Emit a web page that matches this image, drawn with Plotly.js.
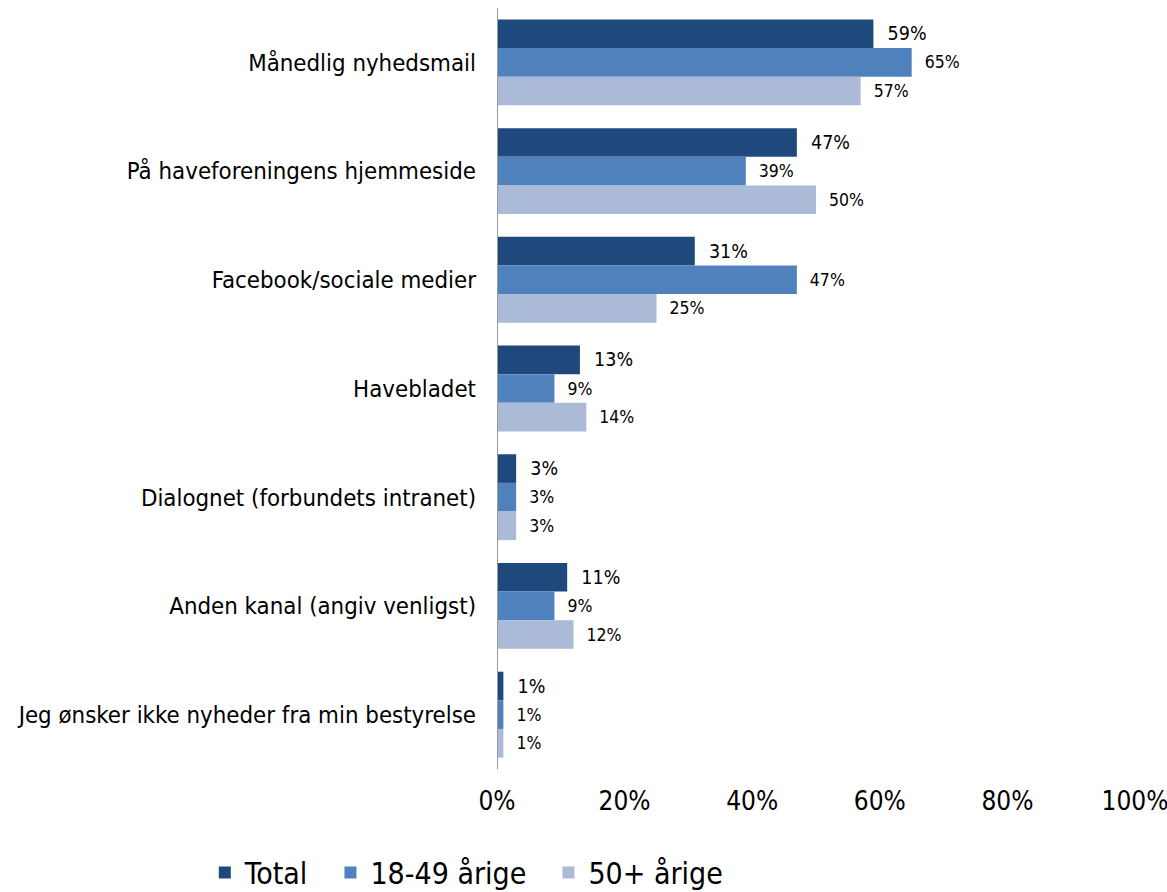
<!DOCTYPE html>
<html>
<head>
<meta charset="utf-8">
<script src="https://cdn.plot.ly/plotly-3.0.1.min.js"></script>
<style>html,body{margin:0;padding:0;background:#fff;}#chart{width:1167px;height:892px;}</style>
</head>
<body>
<div id="chart"></div>
<script>
const categories = [
  "Månedlig nyhedsmail",
  "På haveforeningens hjemmeside",
  "Facebook/sociale medier",
  "Havebladet",
  "Dialognet (forbundets intranet)",
  "Anden kanal (angiv venligst)",
  "Jeg ønsker ikke nyheder fra min bestyrelse"
];
const seriesNames = ["Total", "18-49 årige", "50+ årige"];
const totalValues = [59, 47, 31, 13, 3, 11, 1];
const young = [65, 39, 47, 9, 3, 9, 1];
const older = [57, 50, 25, 14, 3, 12, 1];
const xTickVals = [0, 20, 40, 60, 80, 100];
const xTickText = ["0%", "20%", "40%", "60%", "80%", "100%"];

const colors = ["#1F497D", "#4F81BD", "#AABAD7"];
const labelSizes = [19.5, 17.5, 17.5];
const legendPad = ["\u00a0\u00a0", "\u00a0\u00a0", ""];
const font = "'DejaVu Sans Condensed', 'DejaVu Sans', sans-serif";
const narrow = "'Liberation Sans Narrow', 'DejaVu Sans Condensed', sans-serif";

const data = [totalValues, young, older].map((vals, i) => ({
  type: "bar",
  orientation: "h",
  name: seriesNames[i] + legendPad[i],
  y: categories,
  x: vals,
  marker: {color: colors[i]},
  texttemplate: "\u00a0\u00a0%{x}%",
  textposition: "outside",
  constraintext: "none",
  cliponaxis: false,
  textfont: {family: font, size: labelSizes[i], color: "#000"},
  hoverinfo: "skip"
}));

const layout = {
  width: 1167,
  height: 892,
  margin: {l: 497, r: 32, t: 8, b: 123},
  paper_bgcolor: "#fff",
  plot_bgcolor: "#fff",
  barmode: "group",
  bargap: 0.21,
  bargroupgap: 0,
  font: {family: font, color: "#000"},
  xaxis: {
    range: [0, 100],
    tickvals: xTickVals,
    ticktext: xTickText,
    showgrid: false,
    zeroline: false,
    showline: false,
    ticks: "",
    ticklabelstandoff: 14,
    ticklabeloverflow: "allow",
    tickfont: {family: narrow, size: 26, color: "#000"},
    fixedrange: true
  },
  yaxis: {
    autorange: "reversed",
    showgrid: false,
    zeroline: false,
    showline: false,
    ticks: "",
    ticklabelstandoff: 20,
    tickfont: {family: font, size: 23.8, color: "#000"},
    fixedrange: true
  },
  shapes: [{
    type: "line", xref: "x", yref: "paper",
    x0: 0, x1: 0, y0: 0, y1: 1,
    line: {color: "#9A9A9A", width: 2}
  }],
  showlegend: true,
  legend: {
    orientation: "h",
    xref: "container", yref: "container",
    x: 0.40, xanchor: "center",
    y: 0.022, yanchor: "middle",
    font: {family: font, size: 30, color: "#000"},
    itemwidth: 30,
    traceorder: "normal"
  }
};

Plotly.newPlot("chart", data, layout, {displayModeBar: false, staticPlot: true});
</script>
</body>
</html>
